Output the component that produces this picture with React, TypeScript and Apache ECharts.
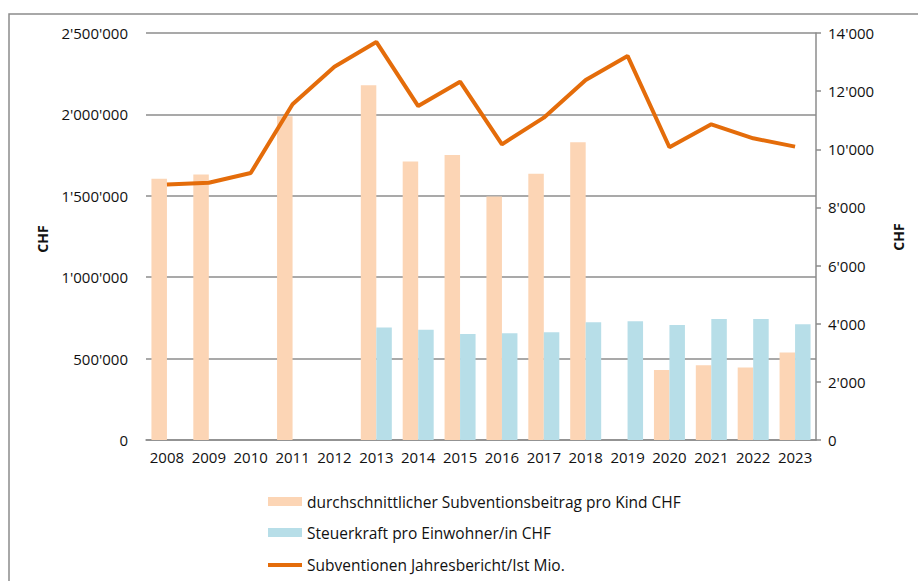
import React, { useEffect, useRef } from "react";
import * as echarts from "echarts";

const years = ["2008","2009","2010","2011","2012","2013","2014","2015","2016","2017","2018","2019","2020","2021","2022","2023"];
const subventionProKind: (number | null)[] = [8990, 9130, null, 11140, null, 12200, 9580, 9800, 8380, 9160, 10240, null, 2410, 2570, 2490, 3010];
const steuerkraft: (number | null)[] = [null, null, null, null, null, 3870, 3790, 3650, 3670, 3710, 4050, 4085, 3960, 4165, 4165, 3980];
const subventionenIst: number[] = [1570000, 1580000, 1640000, 2062000, 2293000, 2445000, 2051000, 2201000, 1816000, 1980000, 2211000, 2359000, 1798000, 1939000, 1853000, 1802000];

const nameBar1 = "durchschnittlicher Subventionsbeitrag pro Kind CHF";
const nameBar2 = "Steuerkraft pro Einwohner/in CHF";
const nameLine = "Subventionen Jahresbericht/Ist Mio.";

const fmt = (v: number) => String(Math.round(v)).replace(/\B(?=(\d{3})+(?!\d))/g, "'");

const FONT = "Open Sans";
const TXT = "#111";
const GRID = "#8c8c8c";

const legendText = { fontFamily: FONT, fontSize: 15.5, color: TXT, lineHeight: 20 };

export default function App() {
  const ref = useRef<HTMLDivElement>(null);
  useEffect(() => {
    if (!ref.current) return;
    const chart = echarts.init(ref.current, undefined, { renderer: "svg" });
    chart.setOption({
      animation: false,
      backgroundColor: "#fff",
      textStyle: { fontFamily: FONT },
      grid: { left: 146, right: 102, top: 33, bottom: 141, containLabel: false },
      graphic: [
        { type: "rect", shape: { x: 9, y: 14, width: 920, height: 600 }, style: { fill: "none", stroke: GRID, lineWidth: 1.5 }, silent: true },
        { type: "text", x: 42, y: 239, rotation: Math.PI / 2, style: { text: "CHF", fontFamily: FONT, fontSize: 14, fontWeight: "bold", fill: TXT, align: "center", verticalAlign: "middle" } },
        { type: "text", x: 898, y: 237, rotation: Math.PI / 2, style: { text: "CHF", fontFamily: FONT, fontSize: 14, fontWeight: "bold", fill: TXT, align: "center", verticalAlign: "middle" } },
      ],
      legend: [
        {
          left: 268, top: 491.5, padding: 0, itemWidth: 34, itemHeight: 9,
          textStyle: legendText,
          data: [{ name: nameBar1, icon: "rect" }],
        },
        {
          left: 268, top: 522.5, padding: 0, itemWidth: 34, itemHeight: 9,
          textStyle: legendText,
          data: [{ name: nameBar2, icon: "rect" }],
        },
        {
          left: 268, top: 555, padding: 0, itemWidth: 34, itemHeight: 4,
          textStyle: legendText,
          data: [{ name: nameLine, icon: "rect" }],
        },
      ],
      xAxis: {
        type: "category",
        data: years,
        axisLine: { show: true, lineStyle: { color: GRID, width: 1.5 } },
        axisTick: { show: false },
        axisLabel: { interval: 0, fontFamily: FONT, fontSize: 15, color: TXT, margin: 9 },
      },
      yAxis: [
        {
          type: "value",
          min: 0,
          max: 2500000,
          interval: 500000,
          position: "left",
          axisLine: { show: false },
          axisTick: { show: false },
          splitLine: { show: true, lineStyle: { color: GRID, width: 1.5 } },
          axisLabel: { fontFamily: FONT, fontSize: 15, color: TXT, margin: 18, formatter: fmt },
        },
        {
          type: "value",
          min: 0,
          max: 14000,
          interval: 2000,
          position: "right",
          axisLine: { show: true, lineStyle: { color: GRID, width: 1.5 } },
          axisTick: { show: true, length: 5, lineStyle: { color: GRID, width: 1.5 } },
          splitLine: { show: false },
          axisLabel: { fontFamily: FONT, fontSize: 15, color: TXT, margin: 12, formatter: fmt },
        },
      ],
      series: [
        {
          name: nameBar1,
          type: "bar",
          yAxisIndex: 1,
          data: subventionProKind,
          barWidth: 15.5,
          barGap: "0%",
          itemStyle: { color: "#FCD5B5" },
        },
        {
          name: nameBar2,
          type: "bar",
          yAxisIndex: 1,
          data: steuerkraft,
          barWidth: 15.5,
          barGap: "0%",
          itemStyle: { color: "#B7DEE8" },
        },
        {
          name: nameLine,
          type: "line",
          yAxisIndex: 0,
          data: subventionenIst,
          symbol: "none",
          lineStyle: { color: "#E46C0A", width: 4 },
          itemStyle: { color: "#E46C0A" },
        },
      ],
    });
    return () => chart.dispose();
  }, []);
  return <div ref={ref} style={{ width: 918, height: 581, position: "absolute", left: 0, top: 0 }} />;
}
